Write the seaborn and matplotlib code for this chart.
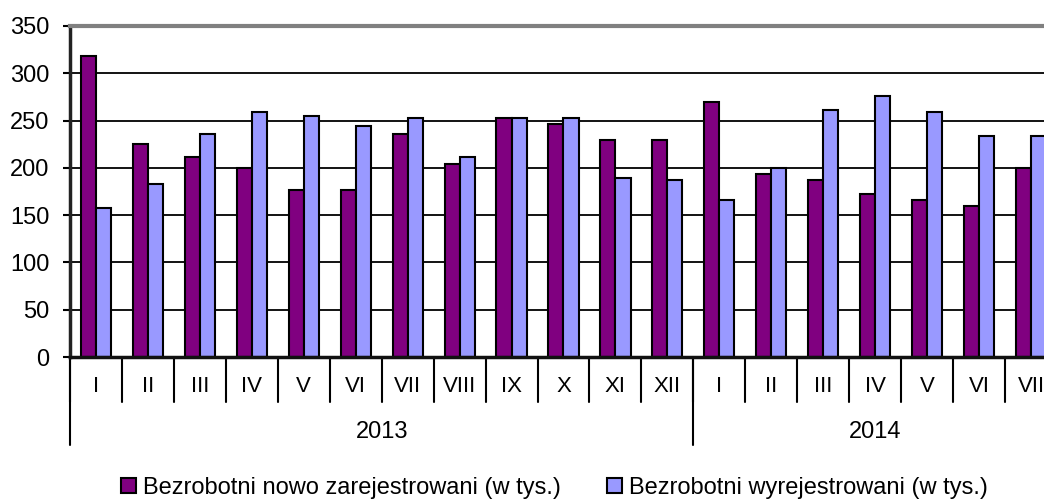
import pandas as pd
import matplotlib.pyplot as plt
import matplotlib.transforms as mtransforms
from matplotlib.patches import Patch
import seaborn as sns

# --- Data (thousands of people) ---
months = ['I', 'II', 'III', 'IV', 'V', 'VI', 'VII', 'VIII', 'IX', 'X', 'XI', 'XII',
          'I', 'II', 'III', 'IV', 'V', 'VI', 'VII']
years = ['2013', '2014']
year_lengths = [12, 7]
registered = [318, 225, 212, 200, 177, 177, 236, 204, 253, 246, 229, 229,
              270, 194, 187, 172, 166, 160, 200]
deregistered = [158, 183, 236, 259, 255, 244, 253, 212, 253, 253, 189, 187,
                166, 200, 261, 276, 259, 234, 234]
series_names = ['Bezrobotni nowo zarejestrowani (w tys.)',
                'Bezrobotni wyrejestrowani (w tys.)']
colors = ['#800080', '#9999FF']

df = pd.DataFrame({
    'idx': list(range(len(months))) * 2,
    'value': registered + deregistered,
    'series': [series_names[0]] * len(months) + [series_names[1]] * len(months),
})

sns.set_style('white')
plt.rcParams['font.family'] = ['Liberation Sans', 'DejaVu Sans']
plt.rcParams['text.color'] = 'black'
plt.rcParams['ytick.labelcolor'] = 'black'

fig = plt.figure(figsize=(10.44, 5.01), dpi=100)
ax = fig.add_axes([70 / 1044, 144 / 501, 1 - 70 / 1044, 331 / 501])

sns.barplot(data=df, x='idx', y='value', hue='series', palette=colors,
            saturation=1, width=0.58, edgecolor='black', linewidth=1.5,
            legend=False, ax=ax)

ax.set_ylim(0, 350)
ax.set_xlim(-0.5, 18.25)
ax.set_yticks(range(0, 351, 50))
ax.set_yticklabels([str(v) for v in range(0, 351, 50)], fontsize=17, color='black')
ax.tick_params(axis='y', direction='out', length=5, width=1.5, color='black', pad=10, left=True)
ax.set_xticks([])
ax.set_xlabel('')
ax.set_ylabel('')

# gridlines
for v in range(50, 350, 50):
    ax.axhline(v, color='black', lw=1.3, zorder=0)

ax.spines['right'].set_visible(False)
ax.spines['top'].set_color('#808080')
ax.spines['top'].set_linewidth(3)
ax.spines['left'].set_color('#222222')
ax.spines['left'].set_linewidth(2.5)
ax.spines['bottom'].set_color('#111111')
ax.spines['bottom'].set_linewidth(2.5)

# --- multi-level category axis ---
trans = mtransforms.blended_transform_factory(ax.transData, ax.transAxes)
px = 1 / 331  # one pixel in axes-y units
for i, m in enumerate(months):
    ax.text(i, -30 * px, m, transform=trans, ha='center', va='center',
            fontsize=16, color='black')
for i in range(len(months) + 1):
    ax.plot([i - 0.5, i - 0.5], [0, -45 * px], transform=trans, color='black',
            lw=1.5, clip_on=False)
start = 0
for y, n in zip(years, year_lengths):
    ax.plot([start - 0.5, start - 0.5], [0, -88 * px], transform=trans,
            color='black', lw=1.5, clip_on=False)
    ax.text(start + (n - 1) / 2, -75 * px, y, transform=trans, ha='center',
            va='center', fontsize=17, color='black')
    start += n

handles = [Patch(facecolor=c, edgecolor='black', linewidth=1.5) for c in colors]
leg = fig.legend(handles, series_names, loc='center', bbox_to_anchor=(0.531, 13 / 501),
                 ncol=2, frameon=False, fontsize=17, handlelength=0.62, handleheight=0.62,
                 handletextpad=0.3, columnspacing=1.95, borderpad=0, borderaxespad=0)
for t in leg.get_texts():
    t.set_color('black')

fig.savefig('out.png', dpi=100)
plt.close(fig)
